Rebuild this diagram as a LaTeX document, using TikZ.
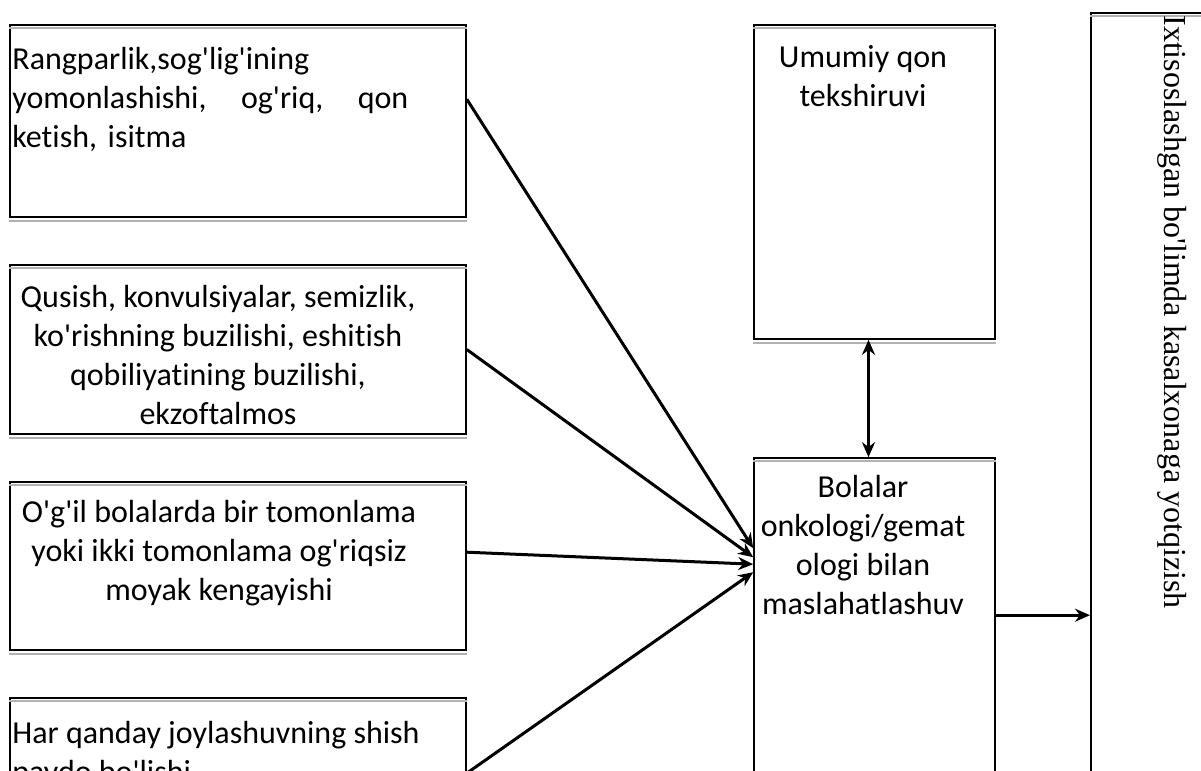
\documentclass[tikz,border=0pt]{standalone}
\usepackage{fontspec}
\newfontfamily\boxfont[Ligatures=NoCommon]{Carlito}
\newfontfamily\sidefont{Liberation Serif}
\usetikzlibrary{arrows.meta}

\tikzset{
 box/.style={draw, line width=0.8pt, inner sep=0pt},
 txt/.style={font=\boxfont\fontsize{16}{19.5}\selectfont, inner sep=0pt, anchor=north},
 conn/.style={line width=1.5pt, -{Stealth[length=7.5pt,width=6.5pt]}},
}

\begin{document}
\begin{tikzpicture}[x=0.5pt,y=-0.5pt]
 \useasboundingbox (0,0) rectangle (1201,771);
 \clip (0,0) rectangle (1201,771);
 % left column
 \node[box, minimum width=228pt, minimum height=96pt] (sym1) at (238,121) {};
 \node[box, minimum width=228pt, minimum height=84.5pt] (sym2) at (238,349.5) {};
 \node[box, minimum width=228pt, minimum height=84pt] (sym3) at (238,566) {};
 \node[box, minimum width=228pt, minimum height=86pt] (sym4) at (238,784) {};
 % middle and right
 \node[box, minimum width=120.5pt, minimum height=157pt] (lab) at (874.5,182) {};
 \node[box, minimum width=120.5pt, minimum height=201pt] (cons) at (874.5,659) {};
 \node[box, line width=1pt, minimum width=84.5pt, minimum height=423.5pt] (hosp) at (1175.5,436.5) {};
 \foreach \b in {sym1,sym2,sym3,sym4,lab,cons,hosp}
   \draw[gray!60, line width=0.9pt] ([yshift=-2pt]\b.north west) -- ([yshift=-2pt]\b.north east);
 \foreach \b in {sym1,sym2,sym3,lab}
   \draw[gray!60, line width=0.9pt] ([yshift=-1.5pt]\b.south west) -- ([yshift=-1.5pt]\b.south east);

 \node[txt, anchor=north west, text width=198pt, align=left] (t1) at (12,47)
   {Rangparlik,sog'lig'ining\\ yomonlashishi,\hfill og'riq,\hfill qon\\ ketish, isitma};
 \node[txt, align=center] (t2) at (218,285)
   {Qusish, konvulsiyalar, semizlik,\\ ko'rishning buzilishi, eshitish\\ qobiliyatining buzilishi,\\ ekzoftalmos};
 \node[txt, align=center] (t3) at (219,500)
   {O'g'il bolalarda bir tomonlama\\ yoki ikki tomonlama og'riqsiz\\ moyak kengayishi};
 \node[txt, anchor=north west, align=left] (t4) at (12,721)
   {Har qanday joylashuvning shish\\ paydo bo'lishi};
 \node[txt, align=center] (t5) at (863,45) {Umumiy qon\\ tekshiruvi};
 \node[txt, align=center] (t6) at (863,475)
   {Bolalar\\ onkologi/gemat\\ ologi bilan\\ maslahatlashuv};
 \node[font=\sidefont\fontsize{16}{19}\selectfont, rotate=-90, anchor=west, inner sep=0pt] (t7)
   at (1172,15) {Ixtisoslashgan bo'limda kasalxonaga yotqizish};

 \draw[conn] ([yshift=-37.5pt]sym1.north east) -- ([yshift=-45.5pt]cons.north west);
 \draw[conn] (sym2.east) -- ([yshift=-50pt]cons.north west);
 \draw[conn] ([yshift=-35.5pt]sym3.north east) -- ([yshift=-53.5pt]cons.north west);
 \draw[conn] ([yshift=-38pt]sym4.north east) -- ([yshift=-57.5pt]cons.north west);
 \draw[conn, {Stealth[length=7.5pt,width=6.5pt]}-{Stealth[length=7.5pt,width=6.5pt]}]
   ([xshift=-3pt]lab.south) -- ([xshift=-3pt]cons.north);
 \coordinate (out) at ([yshift=-79pt]cons.north east);
 \draw[conn] (out) -- (out -| hosp.west);
\end{tikzpicture}
\end{document}
